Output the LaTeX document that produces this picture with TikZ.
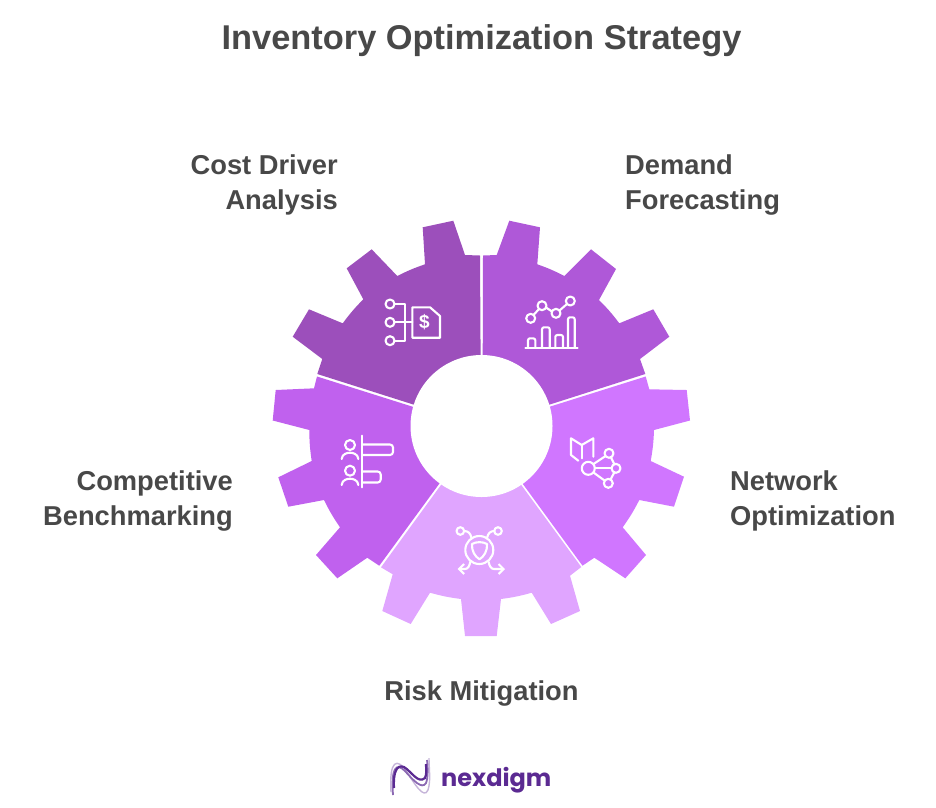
\documentclass[tikz,border=0pt]{standalone}
\usepackage{fontspec}
\usetikzlibrary{arrows.meta}
\setmainfont{Liberation Sans}
\newfontfamily\logofont{Poppins}
\definecolor{costcol}{HTML}{9C4FBB}
\definecolor{demandcol}{HTML}{AF58D8}
\definecolor{networkcol}{HTML}{D076FF}
\definecolor{riskcol}{HTML}{E0A5FF}
\definecolor{benchcol}{HTML}{C061EE}
\definecolor{textcol}{HTML}{484848}
\definecolor{logocol}{HTML}{5B2A92}
\tikzset{
  rim/.style={bend right=4},
  iconline/.style={draw=white, line width=2.1, line join=round, line cap=round},
  labeltext/.style={text=textcol, font=\fontsize{27.3}{35}\selectfont\bfseries, inner sep=0pt},
}
\begin{document}
\begin{tikzpicture}[x=1pt, y=-1pt]
\useasboundingbox (0,0) rectangle (936,807);

% Gear segments
\fill[costcol] (480,255.5) -- (465,255) -- (453.3,220.7) -- (422.7,227.3) -- (425,264.3) to[rim] (397.3,276) -- (371.7,249.3) -- (346.7,268.3) -- (363.3,299.3) to[rim] (342.7,323.3) -- (309,309.3) -- (292.7,336.7) -- (322.3,359) -- (317.3,374) -- (481,426) -- cycle;
\fill[demandcol] (645.3,374) -- (640,359) -- (669.3,336.7) -- (653.3,309.3) -- (619.3,323.3) to[rim] (599,300) -- (616,269) -- (591,249.3) -- (564.3,276) to[rim] (537.3,264.3) -- (540,227.3) -- (509.3,220.7) -- (496.7,255) -- (483,255.5) -- (482.5,426) -- cycle;
\fill[benchcol] (317,376.5) -- (314,388.3) -- (275.7,390) -- (272.7,420.5) -- (309.3,430) to[rim] (311.7,461) -- (278.3,477.3) -- (288.3,506.7) -- (324,500) to[rim] (340,527.3) -- (316,555) -- (337.3,578.3) -- (367.3,557.7) -- (379.3,565.7) -- (480,428) -- cycle;
\fill[networkcol] (582.5,565.7) -- (594.3,557.7) -- (625.3,578.3) -- (646,555) -- (622.7,527.3) to[rim] (639.3,500) -- (674,506.7) -- (684,476.7) -- (650.7,461) to[rim] (654,430) -- (690,420.5) -- (686.7,390) -- (649.3,389.3) -- (645.7,376.5) -- (482,428) -- cycle;
\fill[riskcol] (381,567.3) -- (392.7,574.3) -- (382.3,611) -- (410.7,624) -- (430,592.7) to[rim] (461,599) -- (465,636) -- (496.7,636) -- (501,599) to[rim] (531.7,592.7) -- (551,624) -- (580,611) -- (570,575.7) -- (581.3,567) -- (481,430) -- cycle;
\node (hub) [circle, fill=white, inner sep=0pt, minimum size=142] at (481.5,426) {};

% Cost driver icon
\draw[iconline] (390,304) circle (4.5);
\draw[iconline] (390,322.3) circle (4.5);
\draw[iconline] (390,340.7) circle (4.5);
\draw[iconline] (394.5,304) -- (405,304) -- (405,340.7) -- (394.5,340.7);
\draw[iconline] (394.5,322.3) -- (412.3,322.3);
\draw[iconline] (412.3,307.3) -- (430,307.3) -- (440,316) -- (440,337.7) -- (412.3,337.7) -- cycle;
\node (dollar) [text=white, font=\fontsize{19}{19}\selectfont\bfseries, inner sep=0pt] at (424.5,322.3) {\$};

% Demand icon
\draw[iconline] (533.5,315) -- (539,309);
\draw[iconline] (546,307.5) -- (552,311.5);
\draw[iconline] (559.5,310.5) -- (567,304);
\draw[iconline] (530.7,318.3) circle (4.5);
\draw[iconline] (542,305.7) circle (4.5);
\draw[iconline] (556,313.3) circle (4.5);
\draw[iconline] (570.3,301) circle (4.5);
\draw[iconline] (525.3,347.7) -- (577.5,347.7);
\draw[iconline, rounded corners=2] (528,347.7) -- (528,338.3) -- (535.3,338.3) -- (535.3,347.7);
\draw[iconline, rounded corners=2] (542,347.7) -- (542,327.3) -- (549.7,327.3) -- (549.7,347.7);
\draw[iconline, rounded corners=2] (555.3,347.7) -- (555.3,335) -- (563,335) -- (563,347.7);
\draw[iconline, rounded corners=2] (568,347.7) -- (568,317.3) -- (574.7,317.3) -- (574.7,347.7);

% Benchmarking icon
\draw[iconline] (362.3,435.7) -- (362.3,487.3);
\draw[iconline, rounded corners=3] (362.3,444.5) -- (393,444.5) -- (393,455) -- (362.3,455);
\draw[iconline, rounded corners=3] (362.3,471.5) -- (380.7,471.5) -- (380.7,482.5) -- (362.3,482.5);
\draw[iconline] (350,445) circle (5);
\draw[iconline] (350,470.7) circle (5);
\draw[iconline] (341.7,459) .. controls (342,454) and (347,452.7) .. (350,452.7) .. controls (353,452.7) and (358,454) .. (358.3,459);
\draw[iconline] (341.7,485) .. controls (342,480) and (347,478.7) .. (350,478.7) .. controls (353,478.7) and (358,480) .. (358.3,485);

% Network icon
\draw[iconline] (578.3,460.7) -- (571,455) -- (571,438.3) -- (581.7,445) -- (593.3,438.3) -- (593.3,456.7);
\draw[iconline] (581.7,445) -- (581.7,458.3);
\draw[iconline] (588.3,468.3) circle (6.5);
\draw[iconline] (609,453.3) circle (4.5);
\draw[iconline] (616,468.3) circle (4.5);
\draw[iconline] (608.3,483.3) circle (4.5);
\draw[iconline] (593.5,464) -- (605.5,456);
\draw[iconline] (594.8,468.3) -- (611.5,468.3);
\draw[iconline] (593.5,472.5) -- (604.5,480.5);
\draw[iconline] (611,457.5) -- (614.3,464);
\draw[iconline] (614.3,472.5) -- (610.5,479.5);

% Risk icon
\draw[iconline] (479.3,550) circle (14);
\draw[iconline] (472,544) .. controls (476,541.5) and (483,541.5) .. (487,544) .. controls (487.5,551) and (484,556.5) .. (479.5,559.3) .. controls (475,556.5) and (471.5,551) .. (472,544) -- cycle;
\draw[iconline] (460.3,531) circle (3.8);
\draw[iconline] (498,531) circle (3.8);
\draw[iconline] (464,531) .. controls (468,531) and (470.5,533) .. (471.5,538);
\draw[iconline] (494.5,531) .. controls (490.5,531) and (488,533) .. (487,538);
\draw[iconline, -{Straight Barb[length=5,width=10]}] (470.3,561.7) .. controls (469.5,566) and (468,569) .. (465,569) -- (457.7,569);
\draw[iconline, -{Straight Barb[length=5,width=10]}] (488.5,561.7) .. controls (489.5,566) and (491,569) .. (494,569) -- (505,569);

% Labels
\node (title) [text=textcol, font=\fontsize{34.4}{38}\selectfont\bfseries, inner sep=0pt, anchor=base] at (481.5,49) {Inventory Optimization Strategy};
\node (costlabel) [labeltext, anchor=north east, align=right] at (338,155) {Cost Driver\\Analysis};
\node (demandlabel) [labeltext, anchor=north west, align=left] at (625,155) {Demand\\Forecasting};
\node (benchlabel) [labeltext, anchor=north east, align=right] at (233,471) {Competitive\\Benchmarking};
\node (networklabel) [labeltext, anchor=north west, align=left] at (730,471) {Network\\Optimization};
\node (risklabel) [labeltext, anchor=base] at (481.5,700) {Risk Mitigation};

% Logo
\draw[logocol!35, line width=1.4] (391,792) .. controls (389,760) and (397,757) .. (407,772) .. controls (414,783) and (424,800) .. (428,790) .. controls (431,780) and (429,770) .. (429,758);
\draw[logocol!70, line width=1.8] (393,795) .. controls (391,768) and (396,762) .. (405,771) .. controls (413,780) and (422,790) .. (426,783) .. controls (428,778) and (428,768) .. (427,760);
\draw[logocol, line width=2.2] (394,788) .. controls (393,772) and (397,764) .. (404,767) .. controls (412,772) and (418,784) .. (425,778) .. controls (427,774) and (426,768) .. (426,764);
\node (logo) [text=logocol, font=\logofont\fontsize{24}{28}\selectfont\bfseries, inner sep=0pt, anchor=base west] at (441,786) {nexdigm};
\end{tikzpicture}
\end{document}
